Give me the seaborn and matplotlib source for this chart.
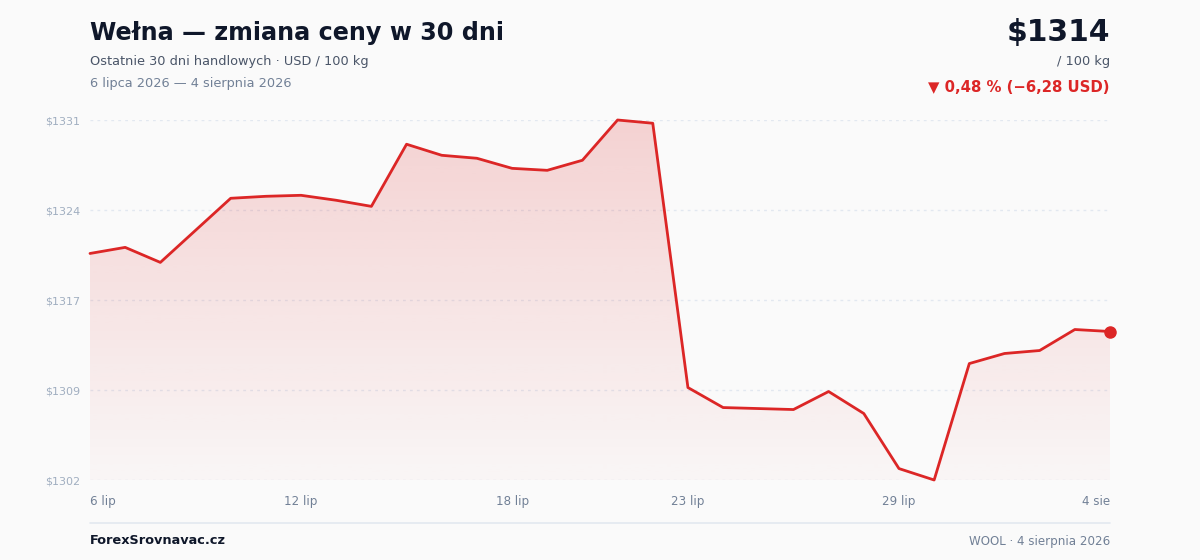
import matplotlib
matplotlib.use("Agg")
import numpy as np
import pandas as pd
import seaborn as sns
import matplotlib.pyplot as plt
from matplotlib.lines import Line2D

# ---------------- data ----------------
days = list(range(30))  # 6 Jul 2026 .. 4 Aug 2026
prices = [1320.28, 1320.77, 1319.56, 1322.14, 1324.72, 1324.88, 1324.96, 1324.56,
          1324.07, 1329.07, 1328.18, 1327.94, 1327.13, 1326.97, 1327.78, 1331.02,
          1330.76, 1309.49, 1307.88, 1307.80, 1307.72, 1309.17, 1307.40, 1302.97,
          1302.05, 1311.42, 1312.23, 1312.47, 1314.16, 1314.00]
tick_days = [0, 6, 12, 17, 23, 29]
tick_labels = ["6 lip", "12 lip", "18 lip", "23 lip", "29 lip", "4 sie"]

title = "Wełna — zmiana ceny w 30 dni"
subtitle = "Ostatnie 30 dni handlowych · USD / 100 kg"
date_range = "6 lipca 2026 — 4 sierpnia 2026"
unit = "/ 100 kg"
footer_left = "ForexSrovnavac.cz"
footer_right = "WOOL · 4 sierpnia 2026"

df = pd.DataFrame({"day": days, "price": prices})

# ---------------- style ----------------
sns.set_theme(style="white")
plt.rcParams["font.family"] = ["DejaVu Sans"]

BG = "#fafafa"
RED = "#dc2626"

W, H = 1200, 560
fig = plt.figure(figsize=(12, 5.6), dpi=100, facecolor=BG)


def fx(x):
    return x / W


def fy(y):
    return 1 - y / H


ax = fig.add_axes([fx(90), fy(480), fx(1110) - fx(90), fy(120) - fy(480)])
ax.set_facecolor(BG)

ymin, ymax = min(prices), max(prices)
ax.set_xlim(0, 29)
ax.set_ylim(ymin, ymax)

# gradient fill under the line
poly = ax.fill_between(df["day"], df["price"], ymin, color="none", lw=0)
n = 256
grad = np.zeros((n, 1, 4))
grad[:, 0, 0] = 220 / 255
grad[:, 0, 1] = 38 / 255
grad[:, 0, 2] = 38 / 255
grad[:, 0, 3] = np.linspace(0.02, 0.19, n)
img = ax.imshow(grad, extent=[0, 29, ymin, ymax], aspect="auto", origin="lower",
                zorder=1, interpolation="bilinear")
img.set_clip_path(poly.get_paths()[0], transform=ax.transData)

# grid lines
yticks = np.linspace(ymin, ymax, 5)
for yv in yticks:
    ax.axhline(yv, color="#e2e8f0", lw=1, ls=(0, (2, 3)), zorder=0)

sns.lineplot(data=df, x="day", y="price", color=RED, lw=2, ax=ax, zorder=3,
             clip_on=False)
ax.plot([days[-1]], [prices[-1]], "o", color=RED, ms=8, zorder=4, clip_on=False)

for s in ax.spines.values():
    s.set_visible(False)

ax.set_yticks(yticks)
ax.set_yticklabels([f"${v:.0f}" for v in yticks])
ax.set_xticks(tick_days)
ax.set_xticklabels(tick_labels)
ax.tick_params(axis="y", length=0, pad=7, labelsize=8, labelcolor="#a0aec0")
ax.tick_params(axis="x", length=0, pad=11, labelsize=8.6, labelcolor="#718096")
xl = ax.get_xticklabels()
xl[0].set_ha("left")
xl[-1].set_ha("right")
ax.set_xlabel("")
ax.set_ylabel("")
ax.grid(False)

# ---------------- header ----------------
fig.text(fx(90), fy(33), title, fontsize=17.2, fontweight="bold", color="#0f172a",
         ha="left", va="center")
fig.text(fx(90), fy(61), subtitle, fontsize=9.3, color="#4a5568", ha="left", va="center")
fig.text(fx(90), fy(83), date_range, fontsize=9.3, color="#718096", ha="left", va="center")

last, first = prices[-1], prices[0]
diff = last - first
pct = diff / first * 100
fig.text(fx(1110), fy(33), f"${last:.0f}", fontsize=21.4, fontweight="bold",
         color="#0f172a", ha="right", va="center")
fig.text(fx(1110), fy(61), unit, fontsize=9.3, color="#4a5568", ha="right", va="center")
arrow = "▼" if diff < 0 else "▲"
chg = f"{arrow} {abs(pct):.2f} % (−{abs(diff):.2f} USD)".replace(".", ",")
fig.text(fx(1110), fy(87), chg, fontsize=10.7, fontweight="bold", color=RED,
         ha="right", va="center")

# ---------------- footer ----------------
fig.add_artist(Line2D([fx(90), fx(1110)], [fy(523), fy(523)], color="#e2e8f0", lw=1.2))
fig.text(fx(90), fy(541), footer_left, fontsize=9.3, fontweight="bold", color="#0f172a",
         ha="left", va="center")
fig.text(fx(1110), fy(541), footer_right, fontsize=8.6, color="#718096",
         ha="right", va="center")

fig.savefig("out.png", dpi=100, facecolor=BG)
